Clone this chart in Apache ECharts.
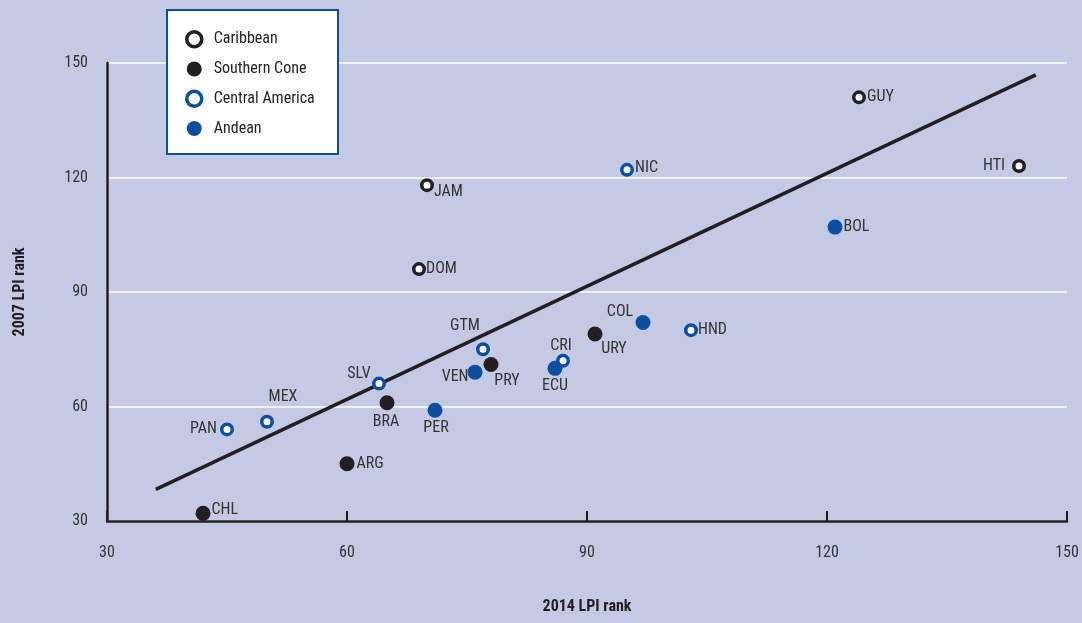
<!DOCTYPE html>
<html>
<head>
<meta charset="utf-8">
<script src="https://cdn.jsdelivr.net/npm/echarts@6/dist/echarts.min.js"></script>
<style>
html,body{margin:0;padding:0;background:#c5cae4;}
#chart{width:1082px;height:623px;}
</style>
</head>
<body>
<div id="chart"></div>
<script>
// ---- Data ----
const xTicks = [30, 60, 90, 120, 150];
const yTicks = [30, 60, 90, 120, 150];

const caribbeanNames = ['GUY', 'HTI', 'JAM', 'DOM'];
const caribbeanX = [124, 144, 70, 69];
const caribbeanY = [141, 123, 118, 96];

const southernConeNames = ['CHL', 'ARG', 'BRA', 'PRY', 'URY'];
const southernConeX = [42, 60, 65, 78, 91];
const southernConeY = [32, 45, 61, 71, 79];

const centralAmericaNames = ['PAN', 'MEX', 'SLV', 'GTM', 'CRI', 'NIC', 'HND'];
const centralAmericaX = [45, 50, 64, 77, 87, 95, 103];
const centralAmericaY = [54, 56, 66, 75, 72, 122, 80];

const andeanNames = ['PER', 'VEN', 'ECU', 'COL', 'BOL'];
const andeanX = [71, 76, 86, 97, 121];
const andeanY = [59, 69, 70, 82, 107];

const trendX = [36.1, 146.1];
const trendY = [38.3, 146.9];

// ---- Label placement (style, not data) ----
const labelPlacement = {
  GUY: ['right', [-2, 0]], HTI: ['left', [-4, 0]], JAM: ['right', [-3, 7]], DOM: ['right', [-3, 0]],
  CHL: ['right', [-2, -3]], ARG: ['right', [-1, 0]], BRA: ['inside', [-1, 19]], PRY: ['inside', [16, 16]],
  URY: ['inside', [19, 15]], PAN: ['left', [0, 0]], MEX: ['inside', [16, -25]], SLV: ['inside', [-20, -10]],
  GTM: ['inside', [-18, -23]], CRI: ['inside', [-2, -15]], NIC: ['right', [-2, -2]], HND: ['right', [-3, 0]],
  PER: ['inside', [1, 18]], VEN: ['left', [4, 5]], ECU: ['inside', [0, 18]], COL: ['inside', [-23, -11]],
  BOL: ['right', [-2, 0]]
};

const FONT = '"Liberation Sans Narrow", "Roboto Condensed", "Liberation Sans", sans-serif';
const BLACK = '#231f20';
const BLUE = '#0b4f9e';

function buildPoints(names, xs, ys) {
  return names.map((n, i) => {
    const p = labelPlacement[n] || ['right', [0, 0]];
    return {
      name: n,
      value: [xs[i], ys[i]],
      label: { position: p[0], offset: p[1] }
    };
  });
}

const hollow = (c) => ({ color: '#ffffff', borderColor: c, borderWidth: 3.5, opacity: 1 });
const filled = (c) => ({ color: c, borderWidth: 0, opacity: 1 });

function scatter(name, names, xs, ys, style, size) {
  return {
    name: name,
    type: 'scatter',
    symbol: 'circle',
    symbolSize: size,
    itemStyle: style,
    z: 5,
    label: {
      show: true,
      formatter: '{b}',
      distance: 3,
      color: '#333333',
      fontFamily: FONT,
      fontSize: 16
    },
    emphasis: { disabled: true },
    data: buildPoints(names, xs, ys)
  };
}

const chart = echarts.init(document.getElementById('chart'));
chart.setOption({
  backgroundColor: '#c5cae4',
  animation: false,
  textStyle: { fontFamily: FONT },
  grid: { left: 107, right: 15, top: 63, bottom: 102, containLabel: false },
  graphic: [{
    type: 'rect',
    left: 166, top: 9, z: 3,
    shape: { width: 171, height: 144 },
    style: { fill: '#ffffff', stroke: BLUE, lineWidth: 2 }
  }],
  legend: {
    orient: 'vertical',
    left: 185, top: 30,
    z: 6,
    itemWidth: 15, itemHeight: 15,
    itemGap: 12.5,
    padding: 0,
    textStyle: { fontFamily: FONT, fontSize: 16, lineHeight: 14, color: BLACK, padding: [0, 0, 0, 7] },
    data: [
      { name: 'Caribbean', icon: 'circle', itemStyle: { color: '#fff', borderColor: BLACK, borderWidth: 3.5, opacity: 1 } },
      { name: 'Southern Cone', icon: 'circle', itemStyle: { color: BLACK, borderWidth: 0, opacity: 1 } },
      { name: 'Central America', icon: 'circle', itemStyle: { color: '#fff', borderColor: BLUE, borderWidth: 3.5, opacity: 1 } },
      { name: 'Andean', icon: 'circle', itemStyle: { color: BLUE, borderWidth: 0, opacity: 1 } }
    ]
  },
  xAxis: {
    type: 'value',
    min: xTicks[0], max: xTicks[xTicks.length - 1], interval: 30,
    name: '2014 LPI rank',
    nameLocation: 'middle',
    nameGap: 78,
    nameTextStyle: { fontFamily: FONT, fontSize: 16, fontWeight: 'bold', color: BLACK },
    axisLine: { show: true, lineStyle: { color: BLACK, width: 2.5 } },
    axisTick: { show: true, inside: true, length: 10, lineStyle: { color: BLACK, width: 2 } },
    axisLabel: { margin: 24, fontFamily: FONT, fontSize: 16, color: '#333333' },
    splitLine: { show: false }
  },
  yAxis: {
    type: 'value',
    min: yTicks[0], max: yTicks[yTicks.length - 1], interval: 30,
    name: '2007 LPI rank',
    nameLocation: 'middle',
    nameGap: 79,
    nameTextStyle: { fontFamily: FONT, fontSize: 16, fontWeight: 'bold', color: BLACK },
    axisLine: { show: true, lineStyle: { color: BLACK, width: 2.5 } },
    axisTick: { show: false },
    axisLabel: { margin: 19, fontFamily: FONT, fontSize: 16, color: '#333333' },
    splitLine: { show: true, lineStyle: { color: '#ffffff', width: 1.5 } }
  },
  series: [
    {
      name: 'trend',
      type: 'line',
      data: trendX.map((x, i) => [x, trendY[i]]),
      symbol: 'none',
      z: 3,
      lineStyle: { color: BLACK, width: 3.5 },
      emphasis: { disabled: true }
    },
    scatter('Caribbean', caribbeanNames, caribbeanX, caribbeanY, hollow(BLACK), 10.5),
    scatter('Southern Cone', southernConeNames, southernConeX, southernConeY, filled(BLACK), 15),
    scatter('Central America', centralAmericaNames, centralAmericaX, centralAmericaY, hollow(BLUE), 10.5),
    scatter('Andean', andeanNames, andeanX, andeanY, filled(BLUE), 15)
  ]
});
</script>
</body>
</html>
